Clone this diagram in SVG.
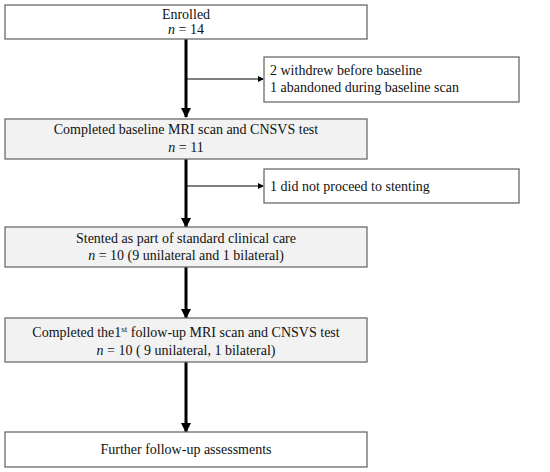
<svg xmlns="http://www.w3.org/2000/svg" width="550" height="472" viewBox="0 0 550 472">
<defs>
<marker id="ah" markerWidth="6" markerHeight="6" refX="5" refY="3" orient="auto" markerUnits="userSpaceOnUse"><path d="M0,0 L6,3 L0,6 Z" fill="#000"/></marker>
<marker id="ahb" markerWidth="10" markerHeight="10" refX="9" refY="5" orient="auto" markerUnits="userSpaceOnUse"><path d="M0,0 L10,5 L0,10 Z" fill="#000"/></marker>
</defs>
<style>
.box{stroke:#6b6b6b;stroke-width:1.3}
.w{fill:#fff}
.g{fill:#f2f2f2}
text{font-family:"Liberation Serif","Times New Roman",serif;font-size:14px;fill:#111}
.c{text-anchor:middle}
.main{stroke:#000;stroke-width:3;fill:none}
.side{stroke:#000;stroke-width:1;fill:none}
</style>
<rect width="550" height="472" fill="#fff"/>
<g id="connectors">
<line class="main" x1="186" y1="39" x2="186" y2="117" marker-end="url(#ahb)"/>
<line class="side" x1="187" y1="79" x2="263" y2="79" marker-end="url(#ah)"/>
<line class="main" x1="186" y1="159" x2="186" y2="227" marker-end="url(#ahb)"/>
<line class="side" x1="187" y1="186" x2="263" y2="186" marker-end="url(#ah)"/>
<line class="main" x1="186" y1="267" x2="186" y2="318" marker-end="url(#ahb)"/>
<line class="main" x1="186" y1="362" x2="186" y2="432" marker-end="url(#ahb)"/>
</g>
<g id="enrolled">
<rect class="box w" x="5" y="5" width="362" height="34"/>
<text class="c" x="186" y="19">Enrolled</text>
<text class="c" x="186" y="34"><tspan font-style="italic">n</tspan> = 14</text>
</g>
<g id="withdrew">
<rect class="box w" x="264" y="57" width="255" height="45"/>
<text x="270" y="75">2 withdrew before baseline</text>
<text x="270" y="92">1 abandoned during baseline scan</text>
</g>
<g id="baseline">
<rect class="box g" x="5" y="119" width="362" height="40"/>
<text class="c" x="186" y="134">Completed baseline MRI scan and CNSVS test</text>
<text class="c" x="186" y="152"><tspan font-style="italic">n</tspan> = 11</text>
</g>
<g id="notstented">
<rect class="box w" x="264" y="169" width="255" height="34"/>
<text x="270" y="191">1 did not proceed to stenting</text>
</g>
<g id="stented">
<rect class="box g" x="5" y="227" width="362" height="40"/>
<text class="c" x="186" y="243">Stented as part of standard clinical care</text>
<text class="c" x="186" y="260"><tspan font-style="italic">n</tspan> = 10 (9 unilateral and 1 bilateral)</text>
</g>
<g id="followup1">
<rect class="box g" x="5" y="318" width="362" height="44"/>
<text class="c" x="186" y="337">Completed the1<tspan font-size="9" dy="-5">st</tspan><tspan dy="5"> follow-up MRI scan and CNSVS test</tspan></text>
<text class="c" x="186" y="355"><tspan font-style="italic">n</tspan> = 10 ( 9 unilateral, 1 bilateral)</text>
</g>
<g id="further">
<rect class="box w" x="5" y="432" width="362" height="35"/>
<text class="c" x="186" y="454">Further follow-up assessments</text>
</g>
</svg>
